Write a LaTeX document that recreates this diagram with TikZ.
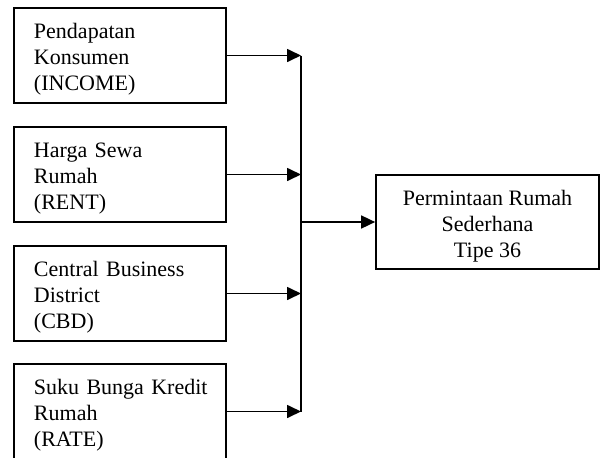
\documentclass[tikz,border=0pt]{standalone}
\usepackage{fontspec}
\setmainfont{Liberation Serif}
\usetikzlibrary{arrows.meta}
\newcommand{\topstrut}{\rule{0pt}{23pt}}
\begin{document}
\begin{tikzpicture}[x=1pt,y=-1pt,
  every node/.style={font=\fontsize{22}{26}\selectfont},
  srcbox/.style={draw, line width=1.7pt, minimum width=212pt, minimum height=95pt,
    text width=172pt, inner xsep=20pt, inner ysep=0pt, align=left, anchor=center},
  tgtbox/.style={draw, line width=1.7pt, minimum width=223pt, minimum height=94pt,
    align=center, inner sep=0pt},
  conn/.style={line width=1.7pt},
  arr/.style={conn, -{Triangle[length=14pt,width=13pt]}}]
\useasboundingbox (0,0) rectangle (600,458);
\node[srcbox] (b1) at (120,55.5) {\topstrut\mbox{Pendapatan}\\\mbox{Konsumen}\\\mbox{(INCOME)}};
\node[srcbox] (b2) at (120,174.5) {\topstrut\mbox{Harga Sewa}\\\mbox{Rumah}\\\mbox{(RENT)}};
\node[srcbox] (b3) at (120,293.5) {\topstrut\mbox{Central Business}\\\mbox{District}\\\mbox{(CBD)}};
\node[srcbox] (b4) at (120,411.5) {\topstrut\mbox{Suku Bunga Kredit}\\\mbox{Rumah}\\\mbox{(RATE)}};
\node[tgtbox] (t) at (487.5,222) {\topstrut Permintaan Rumah\\Sederhana\\Tipe 36};
\coordinate (j1) at (301,55.5);
\coordinate (j4) at (301,411.5);
\coordinate (jt) at (301,222);
\draw[conn] (j1) -- (j4);
\draw[arr] (b1.east) -- (b1.east -| j1);
\draw[arr] (b2.east) -- (b2.east -| j1);
\draw[arr] (b3.east) -- (b3.east -| j1);
\draw[arr] (b4.east) -- (b4.east -| j1);
\draw[arr] (jt) -- (t.west);
\end{tikzpicture}
\end{document}
